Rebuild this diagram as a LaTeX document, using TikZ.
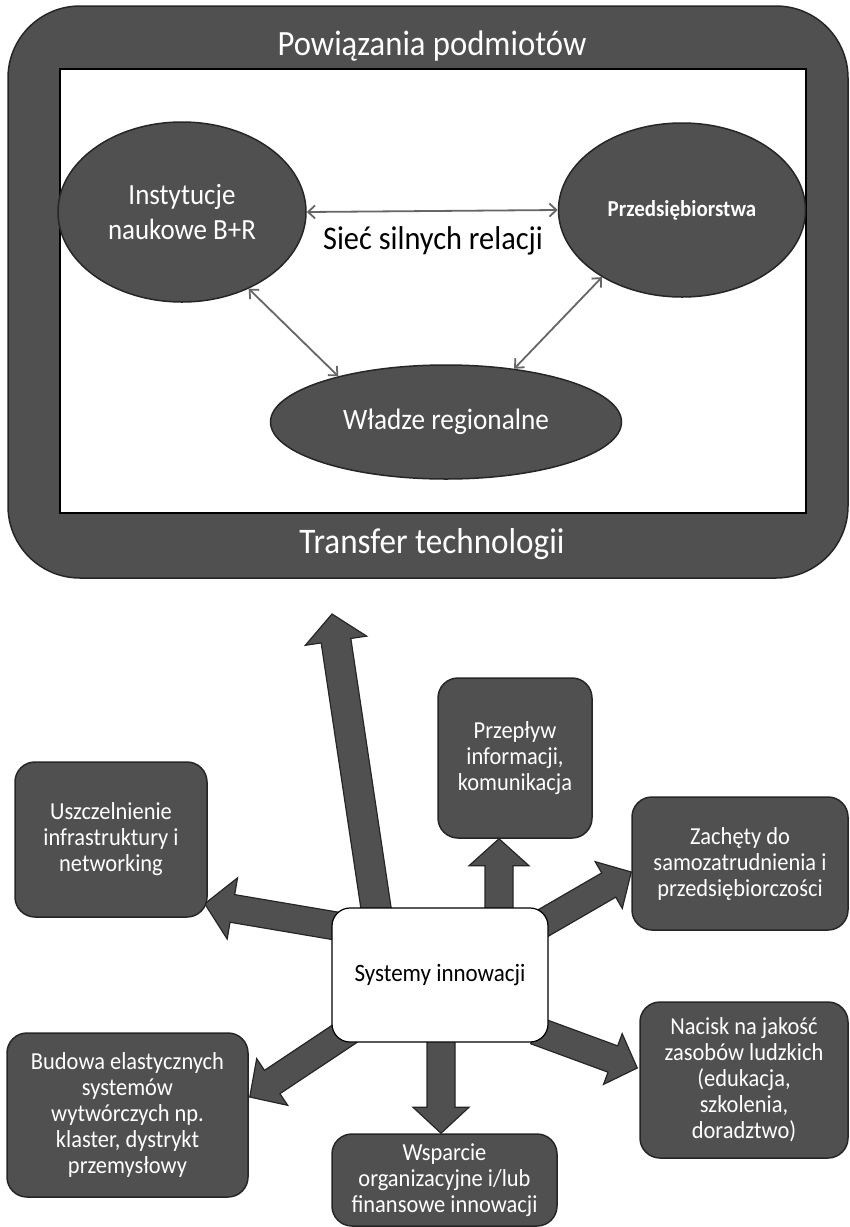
\documentclass[tikz,border=0pt]{standalone}
\usepackage{fontspec}
\setmainfont{Carlito}[FakeStretch=0.92]
\usetikzlibrary{shapes.geometric,arrows.meta,calc,backgrounds}
\definecolor{dk}{HTML}{505050}
\definecolor{edgec}{HTML}{262626}
\definecolor{relc}{HTML}{666666}
\newcommand{\blkarr}[5]{%
  \path (#2) coordinate (bt) ($(#2)!#5!(#1)$) coordinate (bh);
  \filldraw[blk] ($(#1)!#3!90:(#2)$) -- ($(bh)!#3!90:(bt)$) -- ($(bh)!#4!90:(bt)$) -- (bt)
     -- ($(bh)!#4!-90:(bt)$) -- ($(bh)!#3!-90:(bt)$) -- ($(#1)!#3!-90:(#2)$) -- cycle;}
\begin{document}
\begin{tikzpicture}[x=1pt,y=-1pt,
  dkfill/.style={fill=dk,draw=edgec,line width=1.5pt},
  ellnode/.style={ellipse,dkfill,inner sep=0pt,text=white,align=center},
  boxnode/.style={rectangle,rounded corners=20pt,dkfill,text=white,align=center,inner sep=0pt,font=\fontsize{24.4}{26}\selectfont},
  blk/.style={fill=dk,draw=edgec,line width=1.2pt,line join=miter},
  relarrow/.style={draw=relc,line width=1.8pt,{Straight Barb[length=7pt,width=13pt]}-{Straight Barb[length=7pt,width=13pt]}},
  whitelbl/.style={text=white,inner sep=0pt}
  ]
\useasboundingbox (0,0) rectangle (850,1227);
% upper frame
\draw[dkfill,rounded corners=72pt] (8,6) rectangle (848,578);
\draw[fill=white,draw=black,line width=2pt] (60,69) rectangle (806,513);
\node[whitelbl,font=\fontsize{35.5}{40}\selectfont] (ttl) at (432,46) {Powiązania podmiotów};
\node[whitelbl,font=\fontsize{36}{40}\selectfont] (tbt) at (432,544) {Transfer technologii};
% ellipses
\node[ellnode,minimum width=248pt,minimum height=180pt,font=\fontsize{29.3}{35}\selectfont] (ell1) at (182,212) {Instytucje\\naukowe B+R};
\node[ellnode,minimum width=247pt,minimum height=174pt,font=\bfseries\fontsize{22.8}{26}\selectfont] (ell2) at (682,210) {Przedsiębiorstwa};
\node[ellnode,minimum width=351pt,minimum height=114pt,font=\fontsize{29.6}{34}\selectfont] (ell3) at (446,422) {Władze regionalne};
\node[font=\fontsize{33}{38}\selectfont,inner sep=0pt] (rel) at (433,241) {Sieć silnych relacji};
\draw[relarrow] (ell1.east) -- (ell2.west);
\draw[relarrow] (ell1.-49) -- (ell3.157);
\draw[relarrow] (ell2.220) -- (ell3.38);
% lower part
\node[rectangle,rounded corners=18pt,fill=white,draw=black,line width=1.2pt,minimum width=216pt,minimum height=134pt,inner sep=0pt,font=\fontsize{25}{29}\selectfont] (sys) at (440,975) {Systemy innowacji};
\node[boxnode,minimum width=154pt,minimum height=160pt] (prz) at (515,758) {Przepływ\\informacji,\\komunikacja};
\node[boxnode,minimum width=192pt,minimum height=155pt] (usz) at (111,839.5) {Uszczelnienie\\infrastruktury i\\networking};
\node[boxnode,minimum width=216pt,minimum height=133pt] (zach) at (740,863.5) {Zachęty do\\samozatrudnienia i\\przedsiębiorczości};
\node[boxnode,minimum width=208pt,minimum height=156pt] (nac) at (744,1080) {Nacisk na jakość\\zasobów ludzkich\\(edukacja,\\szkolenia,\\doradztwo)};
\node[boxnode,minimum width=241pt,minimum height=164pt] (bud) at (127.5,1115) {Budowa elastycznych\\systemów\\wytwórczych np.\\klaster, dystrykt\\przemysłowy};
\node[boxnode,minimum width=225pt,minimum height=92pt] (wsp) at (444.5,1180) {Wsparcie\\organizacyjne i/lub\\finansowe innowacji};
% arrow ends
\coordinate (tt) at (332,614);
\coordinate (t0) at ($(sys.north)+(-62,14)$);
\coordinate (t1) at ($(sys.north)+(59,14)$);
\coordinate (h1) at ($(prz.south)+(-16,0)$);
\coordinate (t2) at ($(sys.north west)+(13,20)$);
\coordinate (h2) at ($(usz.south east)+(-3,-14)$);
\coordinate (t3) at ($(sys.north east)+(-13,20)$);
\coordinate (h3) at ($(zach.west)+(0,8.5)$);
\coordinate (t4) at ($(sys.south east)+(-13,-12)$);
\coordinate (h4) at ($(nac.west)+(-2,-12)$);
\coordinate (t5) at ($(sys.south west)+(18,-12)$);
\coordinate (h5) at ($(bud.east)+(1,-18)$);
\coordinate (t6) at ($(sys.south)+(1,-12)$);
\coordinate (h6) at ($(wsp.north)+(-3.5,0)$);
\begin{pgfonlayer}{background}
\blkarr{t0}{tt}{15pt}{31pt}{27pt}
\blkarr{t1}{h1}{14pt}{30pt}{27pt}
\blkarr{t2}{h2}{14pt}{31pt}{28pt}
\blkarr{t3}{h3}{14pt}{27pt}{26pt}
\blkarr{t4}{h4}{14pt}{27pt}{26pt}
\blkarr{t5}{h5}{14pt}{28pt}{27pt}
\blkarr{t6}{h6}{14pt}{28pt}{26pt}
\end{pgfonlayer}
\end{tikzpicture}
\end{document}
